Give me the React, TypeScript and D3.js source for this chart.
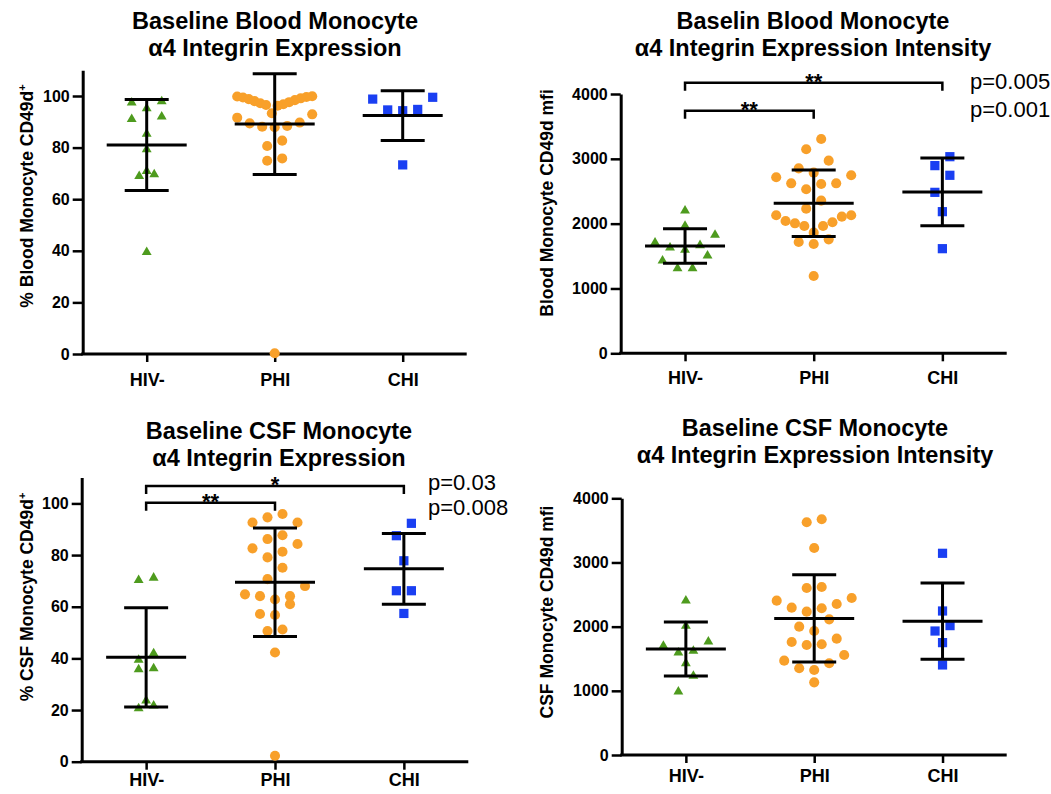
import { useEffect, useRef } from "react";
import * as d3 from "d3";

const groups = ["HIV-", "PHI", "CHI"];
const pctTicks = [0, 20, 40, 60, 80, 100];
const mfiTicks = [0, 1000, 2000, 3000, 4000];

// Blood monocyte % CD49d+
const bloodPctHIV = [97.4, 97.9, 95.2, 92.0, 91.0, 85.3, 79.3, 69.6, 68.9, 70.9, 39.5];
const bloodPctPHI = [
  99.9, 99.8, 99.6, 99.4, 99.1, 98.8, 98.4, 98.0, 97.6, 97.2, 96.8, 96.5, 96.2,
  93.3, 92.9, 91.6, 89.7, 89.4, 88.4, 88.1, 87.9, 82.7, 80.6, 75.8, 74.9, 0.3,
];
const bloodPctCHI = [98.8, 99.5, 94.6, 94.3, 94.8, 73.3];
const bloodPctMean = [81.0, 89.1, 92.4];
const bloodPctSD = [17.6, 19.5, 9.6];

// Blood monocyte CD49d mfi
const bloodMfiHIV = [2200, 1964, 1825, 1707, 1666, 1630, 1594, 1507, 1429, 1311, 1311];
const bloodMfiPHI = [
  3306, 3147, 2972, 2853, 2787, 2746, 2715, 2622, 2622, 2612, 2530, 2355, 2231,
  2129, 2129, 2108, 2041, 2021, 2005, 1964, 1964, 1861, 1758, 1717, 1686, 1193,
];
const bloodMfiCHI = [3033, 2895, 2746, 2483, 2185, 1614];
const bloodMfiMean = [1656, 2314, 2490];
const bloodMfiSD = [265, 514, 522];

// CSF monocyte % CD49d+
const csfPctHIV = [71.2, 70.3, 41.9, 39.4, 36.1, 35.7, 23.6, 20.6, 21.7];
const csfPctPHI = [
  95.9, 94.6, 92.6, 92.6, 87.7, 86.2, 84.3, 82.6, 81.3, 79.1, 75.1, 70.7,
  68.0, 64.8, 64.1, 64.1, 62.8, 61.0, 57.2, 56.8, 51.2, 50.6, 42.3, 2.3,
];
const csfPctCHI = [92.3, 87.5, 77.8, 66.2, 66.2, 57.4];
const csfPctMean = [40.4, 69.5, 74.7];
const csfPctSD = [19.2, 21.0, 13.7];

// CSF monocyte CD49d mfi
const csfMfiHIV = [2405, 2010, 1766, 1699, 1621, 1595, 1429, 1231, 987];
const csfMfiPHI = [
  3673, 3626, 3226, 2618, 2603, 2447, 2405, 2353, 2296, 2286, 2234, 2114,
  2000, 1932, 1813, 1761, 1725, 1714, 1558, 1470, 1429, 1351, 1325, 1132,
];
const csfMfiCHI = [3143, 2244, 2016, 1932, 1751, 1403];
const csfMfiMean = [1652, 2128, 2086];
const csfMfiSD = [421, 680, 595];

const colors = ["#4e9b1e", "#f8a02a", "#1a3ff2"];
const shapes = [d3.symbolTriangle, d3.symbolCircle, d3.symbolSquare];
const sizes = [42, 80, 85];
const font = "'Liberation Sans', Arial, Helvetica, sans-serif";

const panels = [
  {
    title: ["Baseline Blood Monocyte", "α4 Integrin Expression"],
    titleX: 275, titleY: 29,
    yLabel: "% Blood Monocyte CD49d", sup: "+", yLabelX: 33, yLabelY: 196,
    x0: 82.7, x1: 466.7, range: [354, 70.2], domain: [0, 110], ticks: pctTicks, xLabelOff: 32,
    series: [bloodPctHIV, bloodPctPHI, bloodPctCHI], mean: bloodPctMean, sd: bloodPctSD,
    brackets: [], pvals: [], pX: 0, pY: [],
  },
  {
    title: ["Baselin Blood Monocyte", "α4 Integrin Expression Intensity"],
    titleX: 813, titleY: 29,
    yLabel: "Blood Monocyte CD49d mfi", sup: "", yLabelX: 553, yLabelY: 203,
    x0: 620.7, x1: 1006.7, range: [353.3, 94], domain: [0, 4000], ticks: mfiTicks, xLabelOff: 31,
    series: [bloodMfiHIV, bloodMfiPHI, bloodMfiCHI], mean: bloodMfiMean, sd: bloodMfiSD,
    brackets: [
      { a: "HIV-", b: "CHI", y: 82.7, label: "**" },
      { a: "HIV-", b: "PHI", y: 110.7, label: "**" },
    ],
    pvals: ["p=0.005", "p=0.001"], pX: 970, pY: [89, 117],
  },
  {
    title: ["Baseline CSF Monocyte", "α4 Integrin Expression"],
    titleX: 279, titleY: 439,
    yLabel: "% CSF Monocyte CD49d", sup: "+", yLabelX: 33, yLabelY: 597,
    x0: 81.7, x1: 468.3, range: [761.7, 477.6], domain: [0, 110], ticks: pctTicks, xLabelOff: 24,
    series: [csfPctHIV, csfPctPHI, csfPctCHI], mean: csfPctMean, sd: csfPctSD,
    brackets: [
      { a: "HIV-", b: "CHI", y: 486, label: "*" },
      { a: "HIV-", b: "PHI", y: 502.7, label: "**" },
    ],
    pvals: ["p=0.03", "p=0.008"], pX: 428, pY: [490, 515],
  },
  {
    title: ["Baseline CSF Monocyte", "α4 Integrin Expression Intensity"],
    titleX: 815, titleY: 436,
    yLabel: "CSF Monocyte CD49d mfi", sup: "", yLabelX: 553, yLabelY: 612,
    x0: 621.7, x1: 1006.7, range: [755, 498.3], domain: [0, 4000], ticks: mfiTicks, xLabelOff: 27,
    series: [csfMfiHIV, csfMfiPHI, csfMfiCHI], mean: csfMfiMean, sd: csfMfiSD,
    brackets: [], pvals: [], pX: 0, pY: [],
  },
];

// Prism-like scatter: points fall into 20px rows measured from the baseline,
// each row is centred, lowest value in the middle, then left / right outwards
const rowOffsets = (values, y, rowH = 20, maxStep = 15, maxWidth = 75) => {
  const y0 = y(0);
  const offsets = new Array(values.length).fill(0);
  const rows = d3.group(
    values.map((v, i) => i),
    (i) => Math.floor((y0 - y(values[i])) / rowH)
  );
  rows.forEach((row) => {
    const n = row.length;
    const step = n > 1 ? Math.min(maxStep, maxWidth / (n - 1)) : 0;
    const slots = d3
      .range(n)
      .map((k) => (k - (n - 1) / 2) * step)
      .sort((a, b) => Math.abs(a) - Math.abs(b) || a - b);
    row
      .slice()
      .sort((a, b) => values[a] - values[b])
      .forEach((i, k) => (offsets[i] = slots[k]));
  });
  return offsets;
};

const drawPanel = (g, p) => {
  const x = d3.scalePoint().domain(groups).range([p.x0, p.x1]).padding(0.5);
  const y = d3.scaleLinear().domain(p.domain).range(p.range);

  // title
  g.append("text")
    .attr("text-anchor", "middle")
    .attr("font-family", font)
    .attr("font-weight", "bold")
    .attr("font-size", 23.5)
    .selectAll("tspan")
    .data(p.title)
    .join("tspan")
    .attr("x", p.titleX)
    .attr("y", (d, i) => p.titleY + i * 26.5)
    .text((d) => d);

  // y label
  const yl = g
    .append("text")
    .attr("transform", `translate(${p.yLabelX},${p.yLabelY}) rotate(-90)`)
    .attr("text-anchor", "middle")
    .attr("font-family", font)
    .attr("font-weight", "bold")
    .attr("font-size", 17.5);
  yl.append("tspan").text(p.yLabel);
  if (p.sup) yl.append("tspan").attr("dy", -7).attr("font-size", 11).text(p.sup);

  // axes
  const yAxis = g
    .append("g")
    .attr("transform", `translate(${p.x0},0)`)
    .call(
      d3
        .axisLeft(y)
        .tickValues(p.ticks)
        .tickFormat(d3.format("d"))
        .tickSize(10)
        .tickSizeOuter(0)
        .tickPadding(3)
    );
  yAxis.select(".domain").attr("stroke-width", 3);
  yAxis.selectAll(".tick line").attr("stroke-width", 2.5);
  yAxis
    .selectAll(".tick text")
    .attr("font-family", font)
    .attr("font-weight", "bold")
    .attr("font-size", 16)
    .attr("fill", "#000");

  const xAxis = g
    .append("g")
    .attr("transform", `translate(0,${p.range[0]})`)
    .call(d3.axisBottom(x).tickSize(8).tickSizeOuter(0));
  xAxis.select(".domain").attr("stroke-width", 3).attr("d", `M${p.x0 - 1.5},0H${p.x1}`);
  xAxis.selectAll(".tick line").attr("stroke-width", 2.5);
  xAxis
    .selectAll(".tick text")
    .attr("y", p.xLabelOff)
    .attr("dy", 0)
    .attr("font-family", font)
    .attr("font-weight", "bold")
    .attr("font-size", 18)
    .attr("fill", "#000");

  // points
  p.series.forEach((vals, i) => {
    const offs = rowOffsets(vals, y);
    g.append("g")
      .selectAll("path")
      .data(vals)
      .join("path")
      .attr("d", d3.symbol().type(shapes[i]).size(sizes[i]))
      .attr("transform", (d, k) => `translate(${x(groups[i]) + offs[k]},${y(d)})`)
      .attr("fill", colors[i]);
  });

  // mean ± SD
  const bars = g.append("g").attr("stroke", "#000").attr("stroke-width", 3);
  groups.forEach((grp, i) => {
    const cx = x(grp);
    const m = p.mean[i];
    const s = p.sd[i];
    bars.append("line").attr("x1", cx).attr("x2", cx).attr("y1", y(m + s)).attr("y2", y(m - s));
    bars.append("line").attr("x1", cx - 40).attr("x2", cx + 40).attr("y1", y(m)).attr("y2", y(m));
    [m + s, m - s].forEach((v) =>
      bars.append("line").attr("x1", cx - 22).attr("x2", cx + 22).attr("y1", y(v)).attr("y2", y(v))
    );
  });

  // significance brackets
  p.brackets.forEach((b) => {
    const xa = x(b.a);
    const xb = x(b.b);
    g.append("path")
      .attr("d", `M${xa},${b.y + 8}V${b.y}H${xb}V${b.y + 8}`)
      .attr("fill", "none")
      .attr("stroke", "#000")
      .attr("stroke-width", 2.5);
    g.append("text")
      .attr("x", (xa + xb) / 2)
      .attr("y", b.y + 6)
      .attr("text-anchor", "middle")
      .attr("font-family", font)
      .attr("font-weight", "bold")
      .attr("font-size", 22)
      .text(b.label);
  });

  p.pvals.forEach((t, i) => {
    g.append("text")
      .attr("x", p.pX)
      .attr("y", p.pY[i])
      .attr("font-family", font)
      .attr("font-size", 22)
      .text(t);
  });
};

const App = () => {
  const svgRef = useRef(null);

  useEffect(() => {
    const svg = d3.select(svgRef.current);
    svg.selectAll("*").remove();
    panels.forEach((p) => drawPanel(svg.append("g"), p));
  }, []);

  return (
    <svg
      ref={svgRef}
      width={1051}
      height={794}
      style={{ position: "absolute", left: 0, top: 0, background: "#fff" }}
    ></svg>
  );
};

export default App;
